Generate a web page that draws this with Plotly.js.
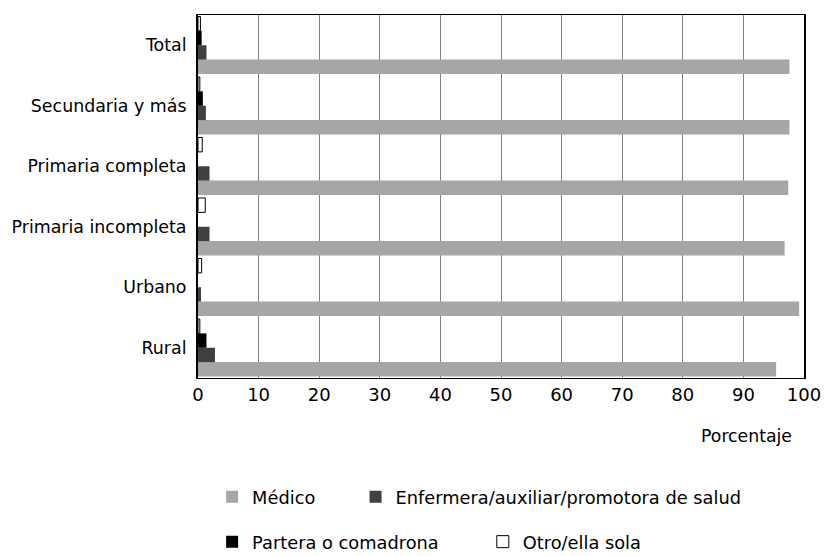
<!DOCTYPE html>
<html>
<head>
<meta charset="utf-8">
<script src="https://cdn.plot.ly/plotly-3.0.1.min.js"></script>
<style>html,body{margin:0;padding:0;background:#fff}#chart{width:830px;height:556px}</style>
</head>
<body>
<div id="chart"></div>
<script>
const categories = ["Total", "Secundaria y más", "Primaria completa", "Primaria incompleta", "Urbano", "Rural"];
const medico = [97.6, 97.6, 97.4, 96.8, 99.2, 95.4];
const enfermera = [1.4, 1.3, 1.9, 1.9, 0.5, 2.8];
const partera = [0.6, 0.8, 0.0, 0.0, 0.0, 1.4];
const otro = [0.4, 0.3, 0.7, 1.2, 0.6, 0.3];
const seriesNames = ["Médico", "Enfermera/auxiliar/promotora de salud", "Partera o comadrona", "Otro/ella sola"];
const xTicks = [0, 10, 20, 30, 40, 50, 60, 70, 80, 90, 100];

const FONT = "DejaVu Sans, sans-serif";
function tr(vals, name, color, lineColor, lineWidth, legendId) {
  return {
    type: "bar", orientation: "h", x: vals, y: categories, name: name,
    marker: {color: color, line: {color: lineColor, width: lineWidth}},
    legend: legendId, showlegend: true, hoverinfo: "x+name"
  };
}
const data = [
  tr(medico, seriesNames[0], "#a6a6a6", "#a6a6a6", 0, "legend"),
  tr(enfermera, seriesNames[1], "#404040", "#404040", 0, "legend2"),
  tr(partera, seriesNames[2], "#000000", "#000000", 0, "legend3"),
  tr(otro, seriesNames[3], "#ffffff", "#000000", 1, "legend4")
];
const legBase = {orientation: "h", bgcolor: "rgba(0,0,0,0)", font: {family: FONT, size: 17.8, color: "#000"}, xanchor: "left", yanchor: "middle", borderwidth: 0};
const layout = {
  width: 830, height: 556,
  margin: {l: 198, r: 26, t: 15, b: 178, autoexpand: false},
  paper_bgcolor: "#fff", plot_bgcolor: "#fff",
  barmode: "group", bargap: 0.05, bargroupgap: 0,
  font: {family: FONT, size: 18, color: "#000"},
  xaxis: {
    range: [0, 100], tickvals: xTicks, ticktext: xTicks.map(String),
    showgrid: true, gridcolor: "#808080", gridwidth: 1,
    showline: true, linecolor: "#000", linewidth: 1, mirror: true,
    zeroline: false, ticks: "", tickfont: {family: FONT, size: 18, color: "#000"}, ticklen: 0
  },
  yaxis: {
    type: "category", categoryorder: "array", categoryarray: categories.slice().reverse(),
    showline: true, linecolor: "#000", linewidth: 2, mirror: true,
    showgrid: false, zeroline: false, ticks: "", ticklabelstandoff: 6,
    tickfont: {family: FONT, size: 17.4, color: "#000"}
  },
  annotations: [{
    text: "Porcentaje", xref: "paper", yref: "paper", x: 0.983, y: -0.16,
    xanchor: "right", yanchor: "middle", showarrow: false,
    font: {family: FONT, size: 17.3, color: "#000"}
  }],
  legend: Object.assign({}, legBase, {x: 0.0233, y: -0.328}),
  legend2: Object.assign({}, legBase, {x: 0.26, y: -0.328}),
  legend3: Object.assign({}, legBase, {x: 0.0233, y: -0.452}),
  legend4: Object.assign({}, legBase, {x: 0.470, y: -0.452})
};
Plotly.newPlot("chart", data, layout, {displayModeBar: false, responsive: false});
</script>
</body>
</html>
